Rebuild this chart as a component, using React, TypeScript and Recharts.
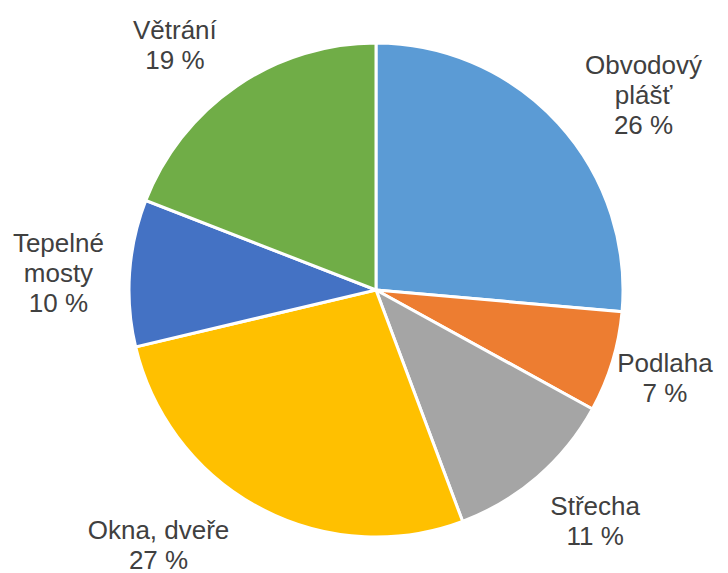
import { PieChart, Pie, Cell } from "recharts";

// podíl tepelných ztrát podle konstrukce (%)
const CATEGORIES = [
  "Obvodový\nplášť",
  "Podlaha",
  "Střecha",
  "Okna, dveře",
  "Tepelné\nmosty",
  "Větrání",
];
const SHARES = [26.4, 6.6, 11.3, 27.0, 9.6, 19.1];
const COLORS = ["#5B9BD5", "#ED7D31", "#A5A5A5", "#FFC000", "#4472C4", "#70AD47"];

// label placement tweaks: clockwise angle shift (deg) and distance from centre
const LABEL_LAYOUT = [
  { shift: 6.4, r: 331 },
  { shift: 0, r: 302 },
  { shift: -2.7, r: 318 },
  { shift: 12.4, r: 335 },
  { shift: -0.9, r: 318 },
  { shift: -5.0, r: 317 },
];

const chartData = CATEGORIES.map((name, i) => ({ name, value: SHARES[i] }));

const FONT = "Liberation Sans, Arial, Helvetica, sans-serif";
const FONT_SIZE = 26;
const LINE_H = 30;

function renderLabel(props: any) {
  const { cx, cy, midAngle, index, name, value } = props;
  const layout = LABEL_LAYOUT[index] || { shift: 0, r: 318 };
  const rad = ((midAngle - layout.shift) * Math.PI) / 180;
  const x = cx + layout.r * Math.cos(rad);
  const y = cy - layout.r * Math.sin(rad);
  const lines = [...String(name).split("\n"), `${Math.round(value)} %`];
  const firstY = y - ((lines.length - 1) * LINE_H) / 2 + FONT_SIZE * 0.358;
  return (
    <text
      key={`lbl-${index}`}
      x={x}
      y={firstY}
      textAnchor="middle"
      fill="#404040"
      fontSize={FONT_SIZE}
      fontFamily={FONT}
    >
      {lines.map((ln, j) => (
        <tspan key={j} x={x} dy={j === 0 ? 0 : LINE_H}>
          {ln}
        </tspan>
      ))}
    </text>
  );
}

export default function App() {
  return (
    <div
      style={{
        position: "absolute",
        left: 0,
        top: 0,
        width: 728,
        height: 573,
        background: "#ffffff",
      }}
    >
      <PieChart width={728} height={573} margin={{ top: 0, right: 0, bottom: 0, left: 0 }}>
        <Pie
          data={chartData}
          dataKey="value"
          nameKey="name"
          cx={376}
          cy={290}
          outerRadius={247}
          startAngle={90}
          endAngle={-270}
          stroke="#ffffff"
          strokeWidth={3}
          label={renderLabel}
          labelLine={false}
          isAnimationActive={false}
        >
          {chartData.map((d, i) => (
            <Cell key={d.name} fill={COLORS[i]} />
          ))}
        </Pie>
      </PieChart>
    </div>
  );
}
